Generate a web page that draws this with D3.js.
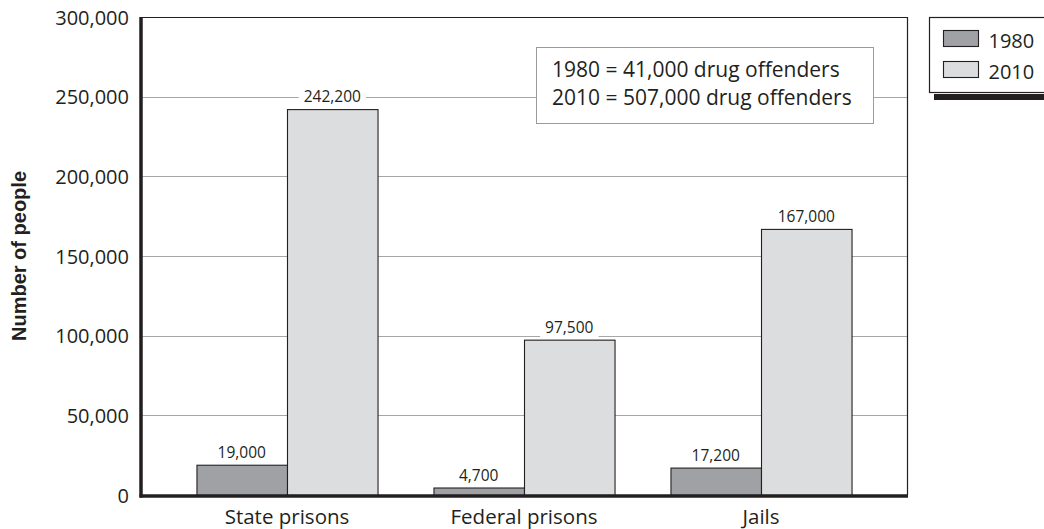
<!DOCTYPE html>
<html>
<head>
<meta charset="utf-8">
<script src="https://cdn.jsdelivr.net/npm/d3@7"></script>
<style>
  html, body { margin: 0; padding: 0; background: #fff; }
  svg { display: block; }
  text { font-family: "Open Sans", "Noto Sans", sans-serif; fill: #231f20; }
</style>
</head>
<body>
<svg id="chart" width="1044" height="529"></svg>
<script>
// Drug offenders held in custody, by institution type
const categories = ["State prisons", "Federal prisons", "Jails"];
const years = ["1980", "2010"];
const values1980 = [19000, 4700, 17200];
const values2010 = [242200, 97500, 167000];
const yTicks = [0, 50000, 100000, 150000, 200000, 250000, 300000];
const noteLines = ["1980 = 41,000 drug offenders", "2010 = 507,000 drug offenders"];
const yTitle = "Number of people";

const colors = { "1980": "#a0a1a4", "2010": "#dcdddf" };

const svg = d3.select("#chart");
const plot = { left: 141, right: 907, top: 17, bottom: 495 };

const x = d3.scaleBand()
  .domain(categories)
  .range([plot.left, plot.right])
  .paddingInner(0.236)
  .paddingOuter(0.234);

const xSub = d3.scaleBand()
  .domain(years)
  .range([0, x.bandwidth()]);

const y = d3.scaleLinear()
  .domain([0, 300000])
  .range([plot.bottom, plot.top]);

const fmt = d3.format(",");

// gridlines
svg.append("g")
  .selectAll("line")
  .data(yTicks.filter(d => d > 0 && d < 300000))
  .join("line")
  .attr("x1", plot.left).attr("x2", plot.right)
  .attr("y1", d => Math.round(y(d)) + 0.5).attr("y2", d => Math.round(y(d)) + 0.5)
  .attr("stroke", "#a7a7a7").attr("stroke-width", 1);

// top and right frame
svg.append("path")
  .attr("d", `M${plot.left},${plot.top + 0.5}H${plot.right + 0.5}V${plot.bottom}`)
  .attr("fill", "none").attr("stroke", "#231f20").attr("stroke-width", 1.2);

// y axis labels
const yAxis = d3.axisLeft(y).tickValues(yTicks).tickFormat(fmt).tickSize(0).tickPadding(12);
const gy = svg.append("g").attr("transform", `translate(${plot.left},0)`).call(yAxis);
gy.select(".domain").remove();
gy.selectAll("text").style("font-size", "20px").attr("dy", "0.36em")
  .style("font-family", '"Open Sans", sans-serif').attr("fill", "#231f20");

// y axis title
svg.append("text")
  .attr("transform", `translate(26,${(plot.top + plot.bottom) / 2}) rotate(-90)`)
  .attr("text-anchor", "middle")
  .style("font-family", '"Liberation Sans", Arial, sans-serif')
  .style("font-weight", "bold").style("font-size", "20px")
  .text(yTitle);

// bars
const series = [
  { year: "1980", values: values1980 },
  { year: "2010", values: values2010 }
];
const bars = [];
series.forEach(s => s.values.forEach((v, i) => bars.push({ cat: categories[i], year: s.year, value: v })));

svg.append("g").selectAll("rect")
  .data(bars)
  .join("rect")
  .attr("x", d => x(d.cat) + xSub(d.year) + 0.5)
  .attr("y", d => y(d.value) + 0.5)
  .attr("width", xSub.bandwidth())
  .attr("height", d => plot.bottom - y(d.value))
  .attr("fill", d => colors[d.year])
  .attr("stroke", "#231f20").attr("stroke-width", 1.1);

// value labels with white knockout
const lbl = svg.append("g").selectAll("g")
  .data(bars)
  .join("g")
  .attr("transform", d => `translate(${x(d.cat) + xSub(d.year) + xSub.bandwidth() / 2},${y(d.value) - 7})`);
lbl.append("text")
  .attr("text-anchor", "middle")
  .style("font-size", "15.5px")
  .text(d => fmt(d.value))
  .each(function () {
    const b = this.getBBox();
    d3.select(this.parentNode).insert("rect", "text")
      .attr("x", b.x - 5).attr("y", b.y)
      .attr("width", b.width + 10).attr("height", b.height)
      .attr("fill", "#fff");
  });

// x axis: thick baseline and left spine
svg.append("line")
  .attr("x1", plot.left - 1.5).attr("x2", plot.right + 1)
  .attr("y1", plot.bottom + 1).attr("y2", plot.bottom + 1)
  .attr("stroke", "#231f20").attr("stroke-width", 3.5);
svg.append("line")
  .attr("x1", plot.left).attr("x2", plot.left)
  .attr("y1", plot.top).attr("y2", plot.bottom + 2.5)
  .attr("stroke", "#231f20").attr("stroke-width", 3.5);

const xAxis = d3.axisBottom(x).tickSize(0).tickPadding(12);
const gx = svg.append("g").attr("transform", `translate(0,${plot.bottom + 2})`).call(xAxis);
gx.select(".domain").remove();
gx.selectAll("text").style("font-size", "20.5px")
  .style("font-family", '"Open Sans", sans-serif').attr("fill", "#231f20");

// note box
const note = svg.append("g");
note.append("rect")
  .attr("x", 536.5).attr("y", 47.5).attr("width", 337).attr("height", 76)
  .attr("fill", "#fff").attr("stroke", "#9b9b9b").attr("stroke-width", 1);
note.selectAll("text")
  .data(noteLines)
  .join("text")
  .attr("x", 552).attr("y", (d, i) => 77 + i * 27.5)
  .style("font-size", "21px")
  .text(d => d);

// legend
const lg = svg.append("g");
lg.append("rect").attr("x", 934).attr("y", 94).attr("width", 120).attr("height", 6).attr("fill", "#231f20");
lg.append("rect").attr("x", 929.5).attr("y", 17.5).attr("width", 130).attr("height", 75)
  .attr("fill", "#fff").attr("stroke", "#231f20").attr("stroke-width", 1.2);
const items = lg.selectAll("g.item")
  .data(years)
  .join("g").attr("class", "item")
  .attr("transform", (d, i) => `translate(943.5,${30.5 + i * 31})`);
items.append("rect").attr("width", 35).attr("height", 16)
  .attr("fill", d => colors[d]).attr("stroke", "#231f20").attr("stroke-width", 1.1);
items.append("text").attr("x", 45).attr("y", 17.5)
  .style("font-size", "20px").text(d => d);
</script>
</body>
</html>
